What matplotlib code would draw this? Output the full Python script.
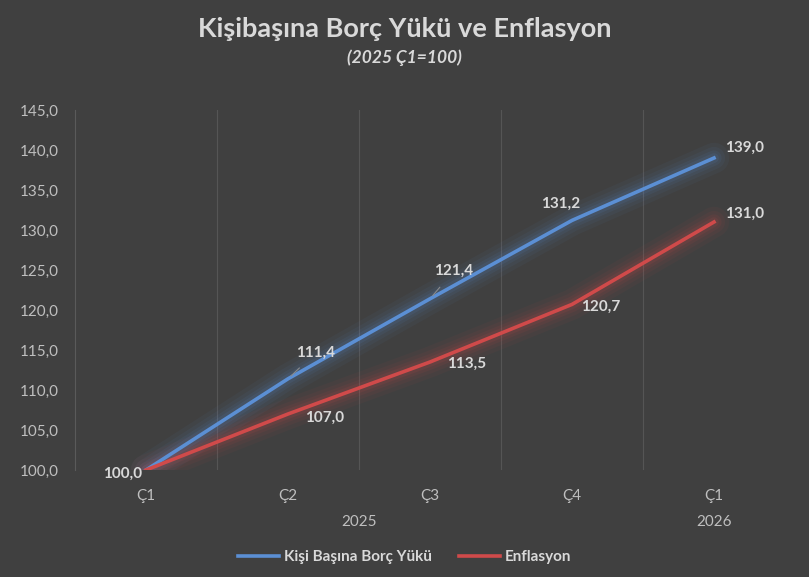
import matplotlib.pyplot as plt

plt.rcParams['font.family'] = ['Lato', 'DejaVu Sans']

quarters = ['Ç1', 'Ç2', 'Ç3', 'Ç4', 'Ç1']
years = ['2025', '2026']
borc = [100.0, 111.4, 121.4, 131.2, 139.0]
enflasyon = [100.0, 107.0, 113.5, 120.7, 131.0]

bg = '#404040'
txt = '#d9d9d9'
tick_c = '#bfbfbf'
blue = '#5b8fd4'
red = '#d04a4a'

W, H = 809, 577
fig = plt.figure(figsize=(W / 100, H / 100), dpi=100, facecolor=bg)
ax = fig.add_axes([75 / W, (H - 470) / H, 710 / W, 360 / H], facecolor=bg)

x = list(range(len(quarters)))

# glow under the lines
for lw, a in [(22, 0.05), (16, 0.06), (11, 0.08), (7, 0.1)]:
    ax.plot(x, borc, color=blue, lw=lw, alpha=a, solid_capstyle='round')
    ax.plot(x, enflasyon, color=red, lw=lw, alpha=a, solid_capstyle='round')
ax.plot(x, borc, color=blue, lw=2.6, label='Kişi Başına Borç Yükü', zorder=5)
ax.plot(x, enflasyon, color=red, lw=2.6, label='Enflasyon', zorder=5)

ax.set_xlim(-0.5, 4.5)
ax.set_ylim(100, 145)
ax.set_yticks(range(100, 146, 5))
ax.set_yticklabels([f'{v:.1f}'.replace('.', ',') for v in range(100, 146, 5)])
ax.set_xticks(x)
ax.set_xticklabels(quarters)
ax.tick_params(colors=tick_c, labelsize=11, length=0)
ax.tick_params(axis='x', pad=14)
ax.tick_params(axis='y', pad=12)

for b in [0.5, 1.5, 2.5, 3.5]:
    ax.axvline(b, color='#555555', lw=0.8, zorder=0)
for s in ['top', 'right', 'bottom']:
    ax.spines[s].set_visible(False)
ax.spines['left'].set_color('#5a5a5a')

def fmt(v):
    return f'{v:.1f}'.replace('.', ',')

# data labels (offsets in points)
b_off = [(-17, -3), (20, 19), (17, 20), (-8, 12), (22, 7)]
r_off = [(-17, -3), (26, -3), (26, -1), (21, -2), (22, 6)]
for i in range(len(x)):
    if i > 0:
        ax.annotate(fmt(borc[i]), (x[i], borc[i]), xytext=b_off[i], textcoords='offset points',
                    ha='center', va='center', color=txt, fontsize=11, fontweight='bold', zorder=6,
                    arrowprops=dict(arrowstyle='-', color='#8a8a8a', lw=0.8, shrinkA=6, shrinkB=3)
                    if i in (1, 2) else None)
    ax.annotate(fmt(enflasyon[i]), (x[i], enflasyon[i]), xytext=r_off[i], textcoords='offset points',
                ha='center', va='center', color=txt, fontsize=11, fontweight='bold', zorder=6)

# year labels
ax.text(1.5, -0.145, years[0], transform=ax.get_xaxis_transform(), ha='center', va='center',
        color=tick_c, fontsize=11)
ax.text(4, -0.145, years[1], transform=ax.get_xaxis_transform(), ha='center', va='center',
        color=tick_c, fontsize=11)

fig.text(0.5, (H - 29) / H, 'Kişibaşına Borç Yükü ve Enflasyon', ha='center', va='center',
         color=txt, fontsize=19.5, fontweight='bold')
fig.text(0.5, (H - 58) / H, '(2025 Ç1=100)', ha='center', va='center',
         color=txt, fontsize=12.5, fontweight='bold', style='italic')

leg = fig.legend(loc='center', bbox_to_anchor=(0.5, (H - 557) / H), ncol=2, frameon=False,
                 handlelength=2.7, columnspacing=1.8, handletextpad=0.3, fontsize=11)
for t in leg.get_texts():
    t.set_color(txt)
    t.set_fontweight('bold')

fig.savefig('out.png', dpi=100, facecolor=bg)
